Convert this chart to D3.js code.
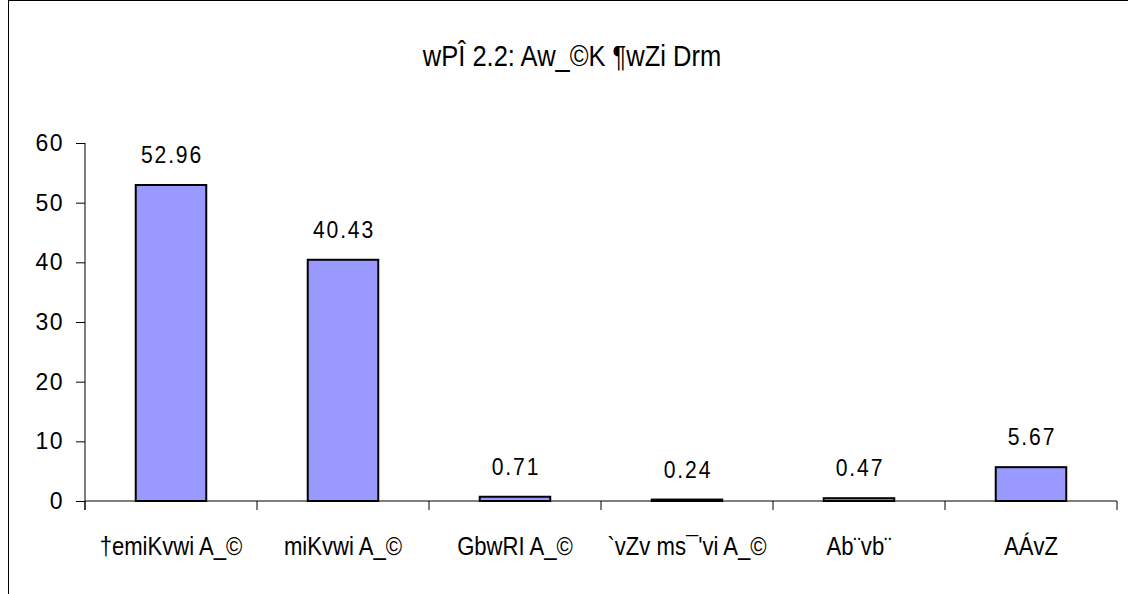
<!DOCTYPE html>
<html><head><meta charset="utf-8">
<script src="https://cdn.jsdelivr.net/npm/d3@7"></script>
<style>body{margin:0;background:#fff}svg{display:block}</style>
</head><body>
<svg id="c" width="1128" height="594"></svg>
<script>
const titleText = "wPÎ 2.2: Aw_©K ¶wZi Drm";
const categories = ["†emiKvwi A_©", "miKvwi A_©", "GbwRI A_©", "`vZv ms¯'vi A_©", "Ab¨vb¨", "AÁvZ"];
const values = [52.96, 40.43, 0.71, 0.24, 0.47, 5.67];
const valueLabels = ["52.96", "40.43", "0.71", "0.24", "0.47", "5.67"];
const yTicks = [0, 10, 20, 30, 40, 50, 60];

const svg = d3.select("#c");
svg.append("rect").attr("x", 8.5).attr("y", 0.5).attr("width", 1130).attr("height", 600)
  .attr("fill", "#fff").attr("stroke", "#000").attr("stroke-width", 1);

const x = d3.scaleBand().domain(categories).range([85, 1117]).paddingInner(0).paddingOuter(0);
const y = d3.scaleLinear().domain([0, 60]).range([501, 143]);
const sans = "'Liberation Sans', Arial, sans-serif";

svg.append("text").attr("transform", "translate(572,66) scale(0.85,1)").attr("text-anchor", "middle")
  .attr("font-family", sans).attr("font-size", 30).text(titleText);

const bw = x.bandwidth() * 0.41;
svg.selectAll("rect.bar").data(values).enter().append("rect").attr("class", "bar")
  .attr("x", (d, i) => x(categories[i]) + x.bandwidth() / 2 - bw / 2)
  .attr("y", d => y(d)).attr("width", bw).attr("height", d => y(0) - y(d))
  .attr("fill", "#9999FF").attr("stroke", "#000").attr("stroke-width", 2);

svg.selectAll("text.val").data(values).enter().append("text").attr("class", "val")
  .attr("transform", (d, i) => `translate(${x(categories[i]) + x.bandwidth() / 2 + 1},${y(d) - 22}) scale(0.92,1)`)
  .attr("text-anchor", "middle")
  .attr("font-family", sans).attr("font-size", 23).attr("letter-spacing", 2)
  .text((d, i) => valueLabels[i]);

const yAxis = svg.append("g").attr("transform", "translate(85,0)")
  .call(d3.axisLeft(y).tickValues(yTicks).tickSize(9).tickPadding(12).tickFormat(d3.format("d")));
yAxis.selectAll("text").attr("font-family", sans).attr("font-size", 23).attr("letter-spacing", 1.5).attr("fill", "#000");
yAxis.select(".domain").attr("stroke", "#000").attr("d", "M0,143V510");
yAxis.selectAll(".tick line").attr("stroke", "#000");

const xg = svg.append("g").attr("transform", "translate(0,501)");
xg.append("line").attr("x1", 85).attr("x2", 1117).attr("stroke", "#000");
const edges = categories.map(c => x(c)).concat([x.range()[1]]);
xg.selectAll("line.t").data(edges).enter().append("line").attr("class", "t")
  .attr("x1", d => d).attr("x2", d => d).attr("y1", 0).attr("y2", 9).attr("stroke", "#000");
xg.selectAll("text").data(categories).enter().append("text")
  .attr("transform", d => `translate(${x(d) + x.bandwidth() / 2},54) scale(0.85,1)`)
  .attr("text-anchor", "middle")
  .attr("font-family", sans).attr("font-size", 26).text(d => d);
</script>
</body></html>
